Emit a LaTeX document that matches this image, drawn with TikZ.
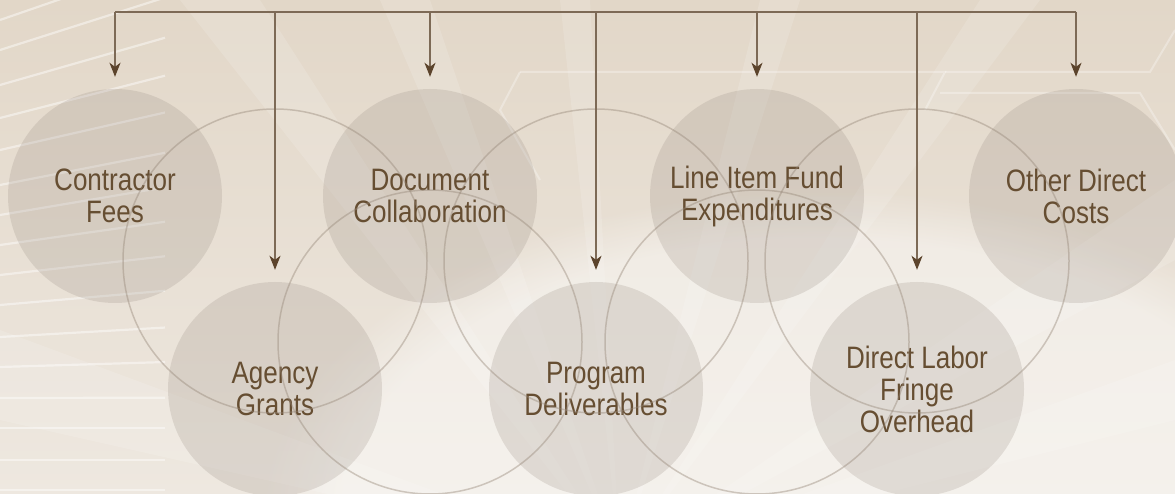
\documentclass[tikz,border=0pt]{standalone}
\usepackage{fontspec}
\setmainfont[FakeStretch=0.84]{Liberation Sans}
\usetikzlibrary{arrows.meta,fadings}
\definecolor{txt}{RGB}{102,78,50}
\definecolor{busc}{RGB}{125,106,86}
\definecolor{tipc}{RGB}{92,68,44}
\definecolor{circc}{RGB}{150,138,128}
\definecolor{ringc}{RGB}{150,135,120}
\definecolor{bgtop}{RGB}{226,215,200}
\definecolor{bgbot}{RGB}{238,232,224}
\begin{document}
\begin{tikzpicture}[x=1pt,y=-1pt,
  topic/.style={circle, minimum size=214pt, inner sep=0pt, fill=circc, fill opacity=0.22,
    text opacity=1, text=txt, align=center, font=\fontsize{31}{32}\selectfont},
  ring/.style={draw=ringc, draw opacity=0.42, line width=1.5pt},
  conn/.style={draw=busc, line width=1.4pt},
  drop/.style={conn, shorten >=12pt, -{Stealth[length=14pt,width=11pt,inset=4pt,color=tipc]}},
  streak/.style={white, opacity=0.45, line width=2.2pt},
  beam/.style={white, opacity=0.14},
  hexline/.style={white, opacity=0.3, line width=2pt}]
\useasboundingbox (0,0) rectangle (1175,494);
\clip (0,0) rectangle (1175,494);
% background
\shade[top color=bgtop, bottom color=bgbot] (0,0) rectangle (1175,494);
\fill[white, opacity=0.4, path fading=circle with fuzzy edge 15 percent] (820,520) ellipse (560 and 330);
% light beams
\fill[beam] (620,560) -- (180,0) -- (260,0) -- cycle;
\fill[beam] (620,560) -- (380,0) -- (430,0) -- cycle;
\fill[beam] (620,560) -- (560,0) -- (590,0) -- cycle;
\fill[beam] (620,560) -- (760,0) -- (800,0) -- cycle;
\fill[beam] (620,560) -- (980,0) -- (1040,0) -- cycle;
\fill[beam] (620,560) -- (1175,180) -- (1175,260) -- cycle;
\fill[beam] (620,560) -- (0,330) -- (0,420) -- cycle;
\fill[beam] (620,560) -- (1175,360) -- (1175,420) -- cycle;
% left streaks
\foreach \y in {20,50,85,118,150,185,215,245,275,305,337,367,398,428,460,490}{
  \pgfmathsetmacro{\dy}{max(0,(400-\y)/1100)*165}
  \draw[streak] (0,\y) -- (165,\y-\dy);
}
% faint hexagon outlines
\draw[hexline] (520,72) -- (945,72) -- (925,110);
\draw[hexline] (945,72) -- (1150,72) -- (1175,30);
\draw[hexline] (940,93) -- (1140,93) -- (1175,150);
\draw[hexline] (520,72) -- (500,110) -- (540,180);
% topic circles
\node[topic] (cf) at (115,196) {Contractor\\Fees};
\node[topic] (dc) at (430,196) {Document\\Collaboration};
\node[topic] (li) at (757,196) {Line Item Fund\\Expenditures};
\node[topic] (od) at (1076,196) {Other Direct\\Costs};
\node[topic] (ag) at (275,389) {Agency\\Grants};
\node[topic] (pd) at (596,389) {Program\\Deliverables};
\node[topic] (dl) at (917,389) {Direct Labor\\Fringe\\Overhead};
% decorative rings
\draw[ring] (275,261) circle (152);
\draw[ring] (596,261) circle (152);
\draw[ring] (917,261) circle (152);
\draw[ring] (430,342) circle (152);
\draw[ring] (757,342) circle (152);
% connectors
\coordinate (bus) at (0,12);
\draw[conn] (cf.north |- bus) -- (od.north |- bus);
\foreach \n in {cf,ag,dc,pd,li,dl,od}{
  \draw[drop] (\n.north |- bus) -- (\n.north);
}
\end{tikzpicture}
\end{document}
